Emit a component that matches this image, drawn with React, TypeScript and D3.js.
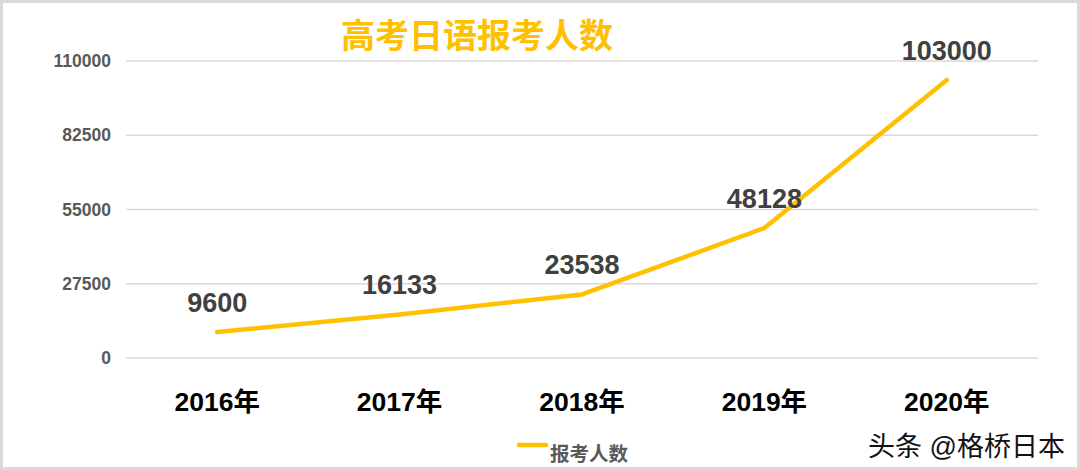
import React from "react";
import * as d3 from "d3";

const categories = ["2016年", "2017年", "2018年", "2019年", "2020年"];
const values = [9600, 16133, 23538, 48128, 103000];
const yTicks = [0, 27500, 55000, 82500, 110000];
const title = "高考日语报考人数";
const seriesName = "报考人数";
const watermark = "头条 @格桥日本";

const W = 1080;
const H = 470;
const FONT = "'Liberation Sans', Arial, 'Noto Sans CJK SC', sans-serif";
const CJK = "'Liberation Sans', 'Noto Sans CJK SC', sans-serif";

export default function App() {
  const x = d3.scaleBand<string>().domain(categories).range([126, 1038]);
  const y = d3.scaleLinear().domain([0, 110000]).range([358, 61]);
  const cx = (c: string) => (x(c) as number) + x.bandwidth() / 2;
  const line = d3
    .line<number>()
    .x((_, i) => cx(categories[i]))
    .y((d) => y(d));

  return (
    <svg
      width={W}
      height={H}
      style={{ position: "absolute", left: 0, top: 0, background: "#fff" }}
    >
      <rect x={1.5} y={1.5} width={W - 3} height={H - 3} fill="#fff" stroke="#d9d9d9" strokeWidth={3} />
      <text
        x={477}
        y={36}
        textAnchor="middle"
        dominantBaseline="central"
        fill="#FFC000"
        fontFamily={CJK}
        fontWeight="bold"
        fontSize={34}
      >
        {title}
      </text>
      {yTicks.map((t) => (
        <g key={t}>
          <line x1={126} x2={1038} y1={y(t)} y2={y(t)} stroke="#d9d9d9" strokeWidth={1.5} />
          <text
            x={111}
            y={y(t)}
            textAnchor="end"
            dominantBaseline="central"
            fill="#595959"
            fontFamily={FONT}
            fontWeight="bold"
            fontSize={17.5}
          >
            {t}
          </text>
        </g>
      ))}
      {categories.map((c) => (
        <text
          key={c}
          x={cx(c)}
          y={402}
          textAnchor="middle"
          dominantBaseline="central"
          fill="#000"
          fontFamily={CJK}
          fontWeight="bold"
          fontSize={26.5}
        >
          {c}
        </text>
      ))}
      <path d={line(values) || ""} fill="none" stroke="#FFC000" strokeWidth={4.5} strokeLinecap="round" strokeLinejoin="round" />
      {values.map((v, i) => (
        <text
          key={i}
          x={cx(categories[i])}
          y={y(v) - 29}
          textAnchor="middle"
          dominantBaseline="central"
          fill="#404040"
          fontFamily={FONT}
          fontWeight="bold"
          fontSize={27}
        >
          {v}
        </text>
      ))}
      <line x1={519} x2={546} y1={445} y2={445} stroke="#FFC000" strokeWidth={4.5} strokeLinecap="round" />
      <text
        x={550}
        y={454}
        dominantBaseline="central"
        fill="#595959"
        fontFamily={CJK}
        fontWeight="bold"
        fontSize={19.5}
      >
        {seriesName}
      </text>
      <text
        x={868}
        y={447}
        dominantBaseline="central"
        fill="#111"
        fontFamily={CJK}
        fontSize={27}
      >
        {watermark}
      </text>
    </svg>
  );
}
